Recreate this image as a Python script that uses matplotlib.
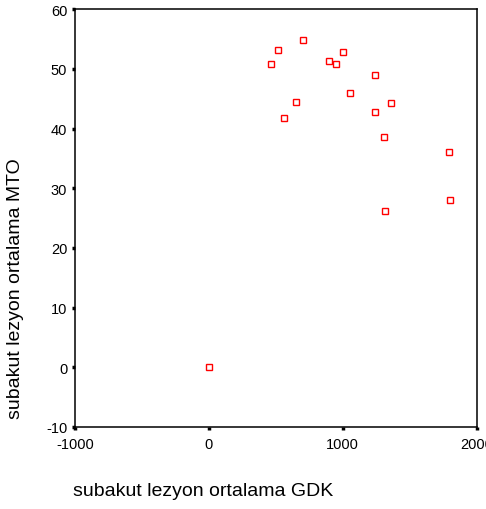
import matplotlib
matplotlib.use('Agg')
import matplotlib.pyplot as plt

plt.rcParams['font.family'] = ['Liberation Sans', 'DejaVu Sans']

# subakut lezyon ortalama GDK / MTO
gdk = [701, 518, 463, 999, 895, 946, 1237, 1051, 652, 1358, 1237, 558, 1309, 1790, 1799, 1318, 0]
mto = [54.9, 53.1, 50.8, 52.9, 51.3, 50.8, 48.9, 45.9, 44.5, 44.3, 42.7, 41.8, 38.5, 36.0, 28.1, 26.2, 0]

xticks = [-1000, 0, 1000, 2000]
yticks = [-10, 0, 10, 20, 30, 40, 50, 60]

fig = plt.figure(figsize=(4.86, 5.10), dpi=100)
ax = fig.add_axes([0.154, 0.161, 0.827, 0.819])

ax.plot(gdk, mto, linestyle='none', marker='s', markersize=4.2,
        markerfacecolor='white', markeredgecolor='red', markeredgewidth=1.0)

ax.set_xlim(-1000, 2000)
ax.set_ylim(-10, 60)
ax.set_xticks(xticks)
ax.set_xticklabels([str(t) for t in xticks])
ax.set_yticks(yticks)
ax.set_yticklabels([str(t) for t in yticks])

for s in ax.spines.values():
    s.set_linewidth(1.1)
    s.set_color('black')

ax.tick_params(direction='out', length=2.5, width=2.5, labelsize=10.5)
ax.tick_params(axis='x', pad=5)
ax.tick_params(axis='y', pad=3)

fig.text(0.031, 0.435, 'subakut lezyon ortalama MTO', fontsize=14, rotation=90,
         ha='center', va='center')
fig.text(0.418, 0.037, 'subakut lezyon ortalama GDK', fontsize=14, ha='center', va='center')

fig.savefig('out.png', dpi=100)
